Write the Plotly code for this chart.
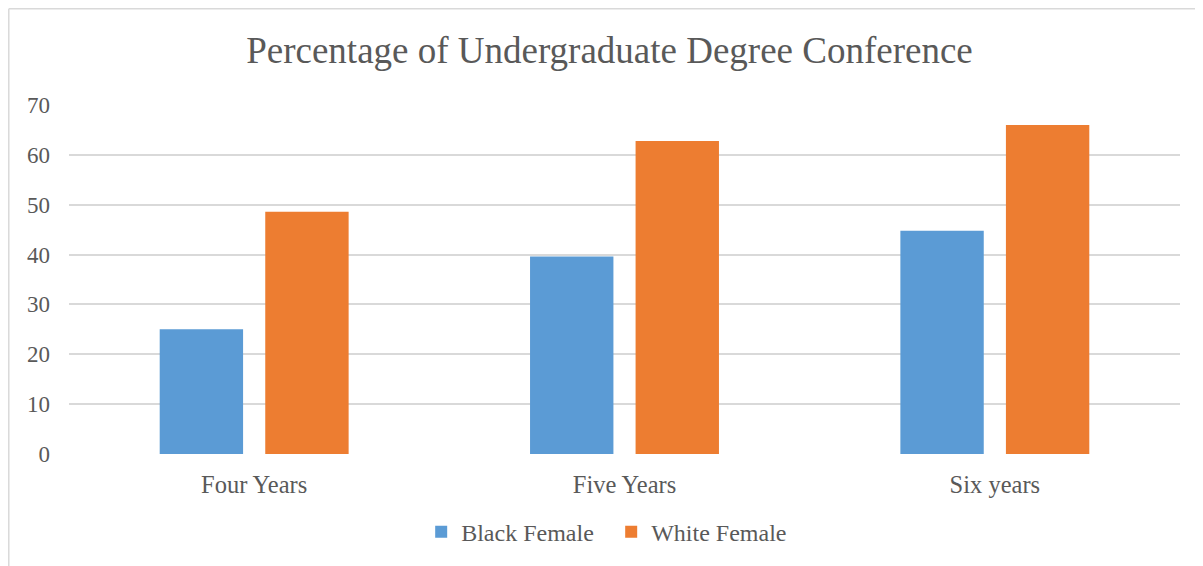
import plotly.graph_objects as go

categories = ["Four Years", "Five Years", "Six years"]
black_female = [25, 39.6, 44.8]
white_female = [48.6, 62.8, 66.0]
y_ticks = [0, 10, 20, 30, 40, 50, 60, 70]

FONT = "Liberation Serif, Times New Roman, serif"
TXT = "#595959"

fig = go.Figure()
fig.add_trace(go.Bar(name="Black Female", x=categories, y=black_female,
                     marker=dict(color="#5b9bd5", line=dict(width=0))))
fig.add_trace(go.Bar(name="White Female", x=categories, y=white_female,
                     marker=dict(color="#ed7d31", line=dict(width=0))))

fig.update_layout(
    width=1203, height=566,
    margin=dict(l=61, r=31, t=96, b=119),
    paper_bgcolor="white", plot_bgcolor="white",
    barmode="group", bargap=0.43, bargroupgap=0.21,
    font=dict(family=FONT, color=TXT, size=23),
    title=dict(text="Percentage of Undergraduate Degree Conference",
               x=0.5, xanchor="center", y=0.926, yanchor="middle",
               font=dict(family=FONT, size=37, color=TXT)),
    legend=dict(orientation="h", x=0.317, xanchor="left", y=-0.22, yanchor="middle",
                font=dict(family=FONT, size=24, color=TXT), itemwidth=30,
                entrywidth=145),
    xaxis=dict(showgrid=False, showline=False, zeroline=False, ticks="",
               ticklabelstandoff=12, tickfont=dict(size=24.5, color=TXT)),
    yaxis=dict(range=[-0.2, 70.2], tickvals=y_ticks, showgrid=True, gridcolor="#d9d9d9",
               gridwidth=1.5, zeroline=False, showline=False, ticks="",
               ticklabelstandoff=18, tickfont=dict(size=23, color=TXT)),
    shapes=[
        dict(type="line", xref="paper", yref="paper", x0=-0.0542, x1=1.05, y0=1.2714, y1=1.2714,
             line=dict(color="#d9d9d9", width=1.5)),
        dict(type="line", xref="paper", yref="paper", x0=-0.0542, x1=-0.0542, y0=1.2714, y1=-0.4,
             line=dict(color="#d9d9d9", width=1.5)),
    ],
)

fig.write_html("out.html")
